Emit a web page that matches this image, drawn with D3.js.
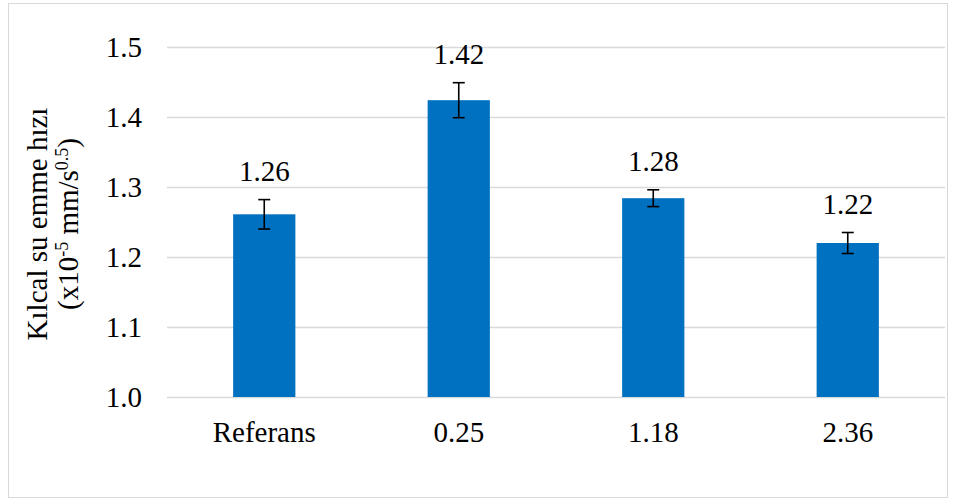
<!DOCTYPE html>
<html><head><meta charset="utf-8">
<script src="https://cdn.jsdelivr.net/npm/d3@7"></script>
<style>body{margin:0;background:#fff}svg{display:block}svg text{font-family:"Liberation Serif","Tinos","Times New Roman",Times,"DejaVu Serif",serif !important;fill:#000}</style>
</head><body>
<svg id="c" width="956" height="501"></svg>
<script>
const categories = ["Referans", "0.25", "1.18", "2.36"];
const values = [1.261, 1.424, 1.284, 1.220];
const errors = [0.021, 0.025, 0.012, 0.015];
const labels = ["1.26", "1.42", "1.28", "1.22"];
const yTicks = [1.0, 1.1, 1.2, 1.3, 1.4, 1.5];

const svg = d3.select("#c");
const fs = 29;
svg.append("rect").attr("x", 8.5).attr("y", 3.5).attr("width", 939).attr("height", 494)
  .attr("fill", "#fff").attr("stroke", "#d9d9d9").attr("stroke-width", 1);

const L = 167, R = 945, T = 47, B = 397;
const x = d3.scaleBand().domain(categories).range([L, R]).paddingInner(0.68).paddingOuter(0.34);
const y = d3.scaleLinear().domain([1.0, 1.5]).range([B, T]);

const yAxis = d3.axisLeft(y).tickValues(yTicks).tickFormat(d3.format(".1f")).tickSize(-(R - L)).tickPadding(25);
const gy = svg.append("g").attr("transform", `translate(${L},0)`).call(yAxis);
gy.attr("font-family", null);
gy.select(".domain").remove();
gy.selectAll(".tick line").attr("stroke", "#d9d9d9").attr("stroke-width", 1.3);
gy.selectAll(".tick text").attr("font-size", fs).attr("fill", "#000").attr("dy", "0.33em");

const xAxis = d3.axisBottom(x).tickSize(0).tickPadding(24);
const gx = svg.append("g").attr("transform", `translate(0,${B})`).call(xAxis);
gx.attr("font-family", null);
gx.select(".domain").remove();
gx.selectAll(".tick text").attr("font-size", fs).attr("fill", "#000");

const data = categories.map((c, i) => ({c, v: values[i], e: errors[i], l: labels[i]}));

svg.append("g").selectAll("rect").data(data).join("rect")
  .attr("x", d => x(d.c)).attr("width", x.bandwidth())
  .attr("y", d => y(d.v)).attr("height", d => y(1.0) - y(d.v))
  .attr("fill", "#0070C0");

const eg = svg.append("g").attr("stroke", "#000").attr("stroke-width", 1.6);
data.forEach(d => {
  const cx = x(d.c) + x.bandwidth() / 2;
  eg.append("line").attr("x1", cx).attr("x2", cx).attr("y1", y(d.v + d.e)).attr("y2", y(d.v - d.e));
  eg.append("line").attr("x1", cx - 6).attr("x2", cx + 6).attr("y1", y(d.v + d.e)).attr("y2", y(d.v + d.e));
  eg.append("line").attr("x1", cx - 6).attr("x2", cx + 6).attr("y1", y(d.v - d.e)).attr("y2", y(d.v - d.e));
});

svg.append("g").selectAll("text").data(data).join("text")
  .attr("x", d => x(d.c) + x.bandwidth() / 2)
  .attr("y", d => y(d.v + d.e) - 19)
  .attr("text-anchor", "middle").attr("font-size", fs)
  .text(d => d.l);

const title = svg.append("text").attr("transform", "translate(47,224) rotate(-90)")
  .attr("text-anchor", "middle").attr("font-size", fs);
title.append("tspan").attr("x", 0).attr("y", 0).text("Kılcal su emme hızı");
const t2 = svg.append("text").attr("transform", "translate(78,224) rotate(-90)")
  .attr("text-anchor", "middle").attr("font-size", fs);
t2.append("tspan").text("(x10");
t2.append("tspan").attr("font-size", fs * 0.62).attr("dy", -10).text("-5");
t2.append("tspan").attr("dy", 10).text(" mm/s");
t2.append("tspan").attr("font-size", fs * 0.62).attr("dy", -10).text("0.5");
t2.append("tspan").attr("dy", 10).text(")");
</script>
</body></html>
